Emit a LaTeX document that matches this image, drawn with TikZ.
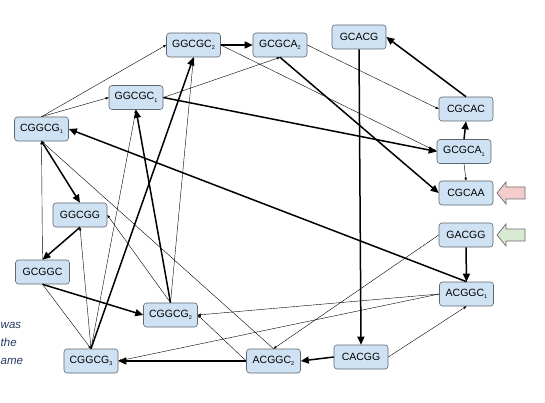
\documentclass[tikz,border=0pt]{standalone}
\usepackage{fontspec}
\setmainfont{Liberation Sans}
\usetikzlibrary{arrows.meta}
\definecolor{boxfill}{HTML}{CFE2F3}
\definecolor{boxline}{HTML}{5F6770}
\definecolor{pinkfill}{HTML}{F4CCCC}
\definecolor{greenfill}{HTML}{D9EAD3}
\definecolor{noteink}{HTML}{283A63}
\newcommand{\sbx}[1]{\raisebox{-0.45ex}{\fontsize{5.5}{5.5}\selectfont #1}}
\tikzset{
  seq/.style={draw=boxline, fill=boxfill, rounded corners=3pt, line width=0.6pt,
    minimum width=54pt, minimum height=24pt, inner sep=0pt, font=\fontsize{10.5}{12}\selectfont},
  pathedge/.style={line width=1.5pt, -{Triangle[length=8pt,width=7pt]}},
  thinedge/.style={line width=0.4pt, -{Triangle[length=3pt,width=2.4pt]}},
  blockarrow/.style={draw=gray!85!black, line width=0.7pt, line join=miter},
  note/.style={anchor=base west, inner sep=0pt, text=noteink, font=\fontsize{11.5}{14}\selectfont\itshape}
}
\begin{document}
\begin{tikzpicture}[x=1pt,y=-1pt]
\useasboundingbox (0,0) rectangle (545,403);
\fill[white] (0,0) rectangle (545,403);

% nodes
\node[seq] (GGCGC2) at (193.5,45) {GGCGC\sbx{2}};
\node[seq] (GCGCA2) at (280,45) {GCGCA\sbx{2}};
\node[seq] (GCACG) at (359,37) {GCACG};
\node[seq] (GGCGC1) at (136,97.5) {GGCGC\sbx{1}};
\node[seq] (CGGCG1) at (41.5,129) {CGGCG\sbx{1}};
\node[seq] (CGCAC) at (466,109) {CGCAC};
\node[seq] (GCGCA1) at (464,151.5) {GCGCA\sbx{1}};
\node[seq] (CGCAA) at (466,193) {CGCAA};
\node[seq] (GACGG) at (466,235) {GACGG};
\node[seq] (ACGGC1) at (466.5,294) {ACGGC\sbx{1}};
\node[seq] (GGCGG) at (80,215) {GGCGG};
\node[seq] (GCGGC) at (42.5,272) {GCGGC};
\node[seq] (CGGCG2) at (170.5,315) {CGGCG\sbx{2}};
\node[seq] (CGGCG3) at (91,361) {CGGCG\sbx{3}};
\node[seq] (ACGGC2) at (273.5,361) {ACGGC\sbx{2}};
\node[seq] (CACGG) at (361,357) {CACGG};

% thin edges
\draw[thinedge] (CGGCG1.north) -- (GGCGC2.west);
\draw[thinedge] (CGGCG1.north) -- (GGCGC1.west);
\draw[thinedge] (CGGCG2.north) -- (GGCGC2.south);
\draw[thinedge] (CGGCG3.north) -- (GGCGC1.south);
\draw[thinedge] (CGGCG2.north) -- (GGCGG.east);
\draw[thinedge] (CGGCG3.north) -- (GGCGG.south);
\draw[thinedge] (GCGGC.north) -- (CGGCG1.south);
\draw[thinedge] (GCGGC.south) -- (CGGCG3.north);
\draw[thinedge] (ACGGC1.west) -- (CGGCG2.east);
\draw[thinedge] (ACGGC1.west) -- (CGGCG3.east);
\draw[thinedge] (ACGGC2.west) -- (CGGCG2.east);
\draw[thinedge] (ACGGC2.north) -- (CGGCG1.south);
\draw[thinedge] (GGCGC1.east) -- (GCGCA2.south);
\draw[thinedge] (GGCGC2.east) -- (GCGCA1.west);
\draw[thinedge] (GCGCA1.south) -- (CGCAA.north);
\draw[thinedge] (GCGCA2.east) -- (CGCAC.west);
\draw[thinedge] (CACGG.east) -- (ACGGC1.south);
\draw[thinedge] (GACGG.west) -- (ACGGC2.north);

% thick path edges
\draw[pathedge] (GACGG.south) -- (ACGGC1.north);
\draw[pathedge] (ACGGC1.north) -- (CGGCG1.east);
\draw[pathedge] (CGGCG1.south) -- (GGCGG.north);
\draw[pathedge] (GGCGG.south) -- (GCGGC.north);
\draw[pathedge] (GCGGC.south) -- (CGGCG2.west);
\draw[pathedge] (CGGCG2.north) -- (GGCGC1.south);
\draw[pathedge] (GGCGC1.east) -- (GCGCA1.west);
\draw[pathedge] (GCGCA1.north) -- (CGCAC.south);
\draw[pathedge] (CGCAC.north) -- (GCACG.east);
\draw[pathedge] (GCACG.south) -- (CACGG.north);
\draw[pathedge] (CACGG.west) -- (ACGGC2.east);
\draw[pathedge] (ACGGC2.west) -- (CGGCG3.east);
\draw[pathedge] (CGGCG3.north) -- (GGCGC2.south);
\draw[pathedge] (GGCGC2.east) -- (GCGCA2.west);
\draw[pathedge] (GCGCA2.south) -- (CGCAA.west);

% start / end markers
\draw[blockarrow, fill=pinkfill] (497,193) -- (506,182) -- (506,187) -- (525,187) -- (525,199) -- (506,199) -- (506,204) -- cycle;
\draw[blockarrow, fill=greenfill] (497,235) -- (506,224) -- (506,229) -- (525,229) -- (525,241) -- (506,241) -- (506,246) -- cycle;

% note at the left edge
\node[note] (n1) at (0.5,328) {was};
\node[note] (n2) at (0.5,346) {the};
\node[note] (n3) at (0.5,364) {ame};
\end{tikzpicture}
\end{document}
